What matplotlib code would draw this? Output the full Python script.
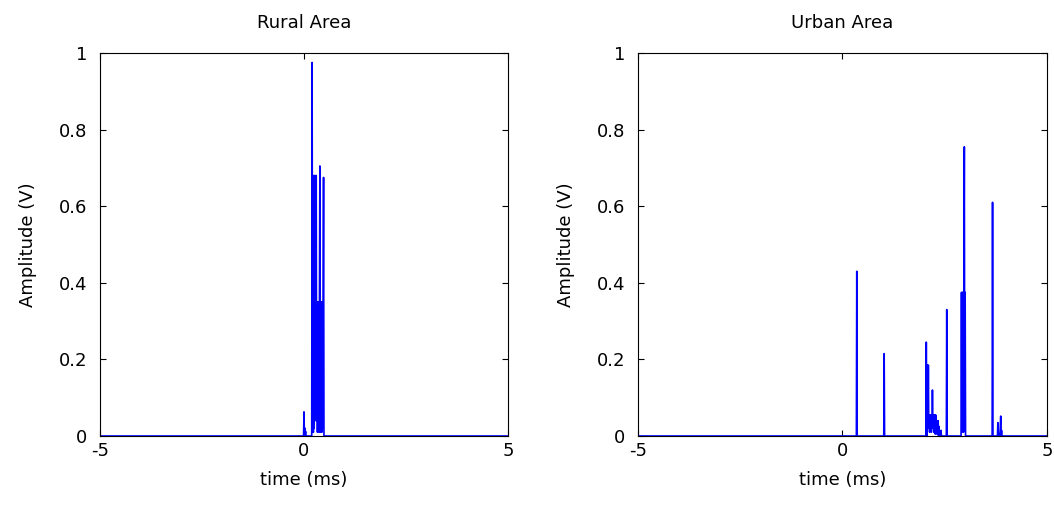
import numpy as np
import matplotlib.pyplot as plt

# time axis of the sampled impulse responses (ms)
t_start, t_stop, dt = -5.0, 5.0, 0.01

# rural channel taps: delay (ms) and amplitude (V)
rural_delay = [0.00, 0.02, 0.03, 0.04,
               0.20, 0.21, 0.22, 0.23, 0.24, 0.25, 0.26, 0.27, 0.28, 0.29, 0.30, 0.31,
               0.32, 0.33, 0.34, 0.35, 0.36, 0.37, 0.38, 0.39, 0.40, 0.41, 0.42, 0.43,
               0.44, 0.45, 0.46, 0.47, 0.48]
rural_amp = [0.063, 0.021, 0.004, 0.012,
             0.975, 0.01, 0.68, 0.01, 0.68, 0.02, 0.68, 0.04, 0.68, 0.05, 0.68, 0.04,
             0.35, 0.01, 0.35, 0.02, 0.35, 0.01, 0.35, 0.705, 0.01, 0.35, 0.02, 0.35,
             0.01, 0.35, 0.02, 0.35, 0.675]

# urban channel taps
urban_delay = [0.35, 1.02,
               2.05, 2.07, 2.08, 2.09, 2.10, 2.11, 2.12, 2.13, 2.14, 2.15, 2.16, 2.17,
               2.18, 2.19, 2.20, 2.21, 2.22, 2.23, 2.24, 2.25, 2.26, 2.27, 2.28, 2.29,
               2.30, 2.31, 2.32, 2.33, 2.34, 2.36, 2.38, 2.41,
               2.55,
               2.91, 2.92, 2.93, 2.94, 2.95, 2.96, 2.97, 2.98, 2.99, 3.00,
               3.67, 3.80, 3.81, 3.86, 3.87, 3.89]
urban_amp = [0.43, 0.215,
             0.245, 0.01, 0.185, 0.02, 0.185, 0.03, 0.055, 0.01, 0.055, 0.02, 0.055, 0.01,
             0.055, 0.02, 0.12, 0.03, 0.055, 0.01, 0.055, 0.02, 0.055, 0.005, 0.055, 0.01,
             0.04, 0.005, 0.04, 0.01, 0.04, 0.025, 0.01, 0.015,
             0.33,
             0.375, 0.01, 0.375, 0.02, 0.375, 0.01, 0.375, 0.755, 0.02, 0.375,
             0.61, 0.035, 0.01, 0.03, 0.052, 0.015]

titles = ["Rural Area", "Urban Area"]
xticks = [-5, 0, 5]
yticks = [0, 0.2, 0.4, 0.6, 0.8, 1]
ytick_labels = ["0", "0.2", "0.4", "0.6", "0.8", "1"]


def sampled(delays, amps):
    t = np.round(np.arange(t_start, t_stop + dt / 2, dt), 2)
    h = np.zeros_like(t)
    idx = np.round((np.array(delays) - t_start) / dt).astype(int)
    h[idx] = amps
    return t, h


plt.rcParams['font.family'] = ['DejaVu Sans']
fig = plt.figure(figsize=(10.54, 5.09), dpi=100)
ax1 = fig.add_axes([0.0949, 0.1434, 0.387, 0.7525])
ax2 = fig.add_axes([0.6053, 0.1434, 0.388, 0.7525])

for ax, title, (d, a) in zip([ax1, ax2], titles,
                             [(rural_delay, rural_amp), (urban_delay, urban_amp)]):
    t, h = sampled(d, a)
    ax.plot(t, h, color=(0, 0, 1), lw=1.2)
    ax.set_xlim(-5, 5)
    ax.set_ylim(0, 1)
    ax.set_xticks(xticks)
    ax.set_xticklabels([str(v) for v in xticks])
    ax.set_yticks(yticks)
    ax.set_yticklabels(ytick_labels)
    ax.tick_params(direction='in', length=4, top=True, right=True, labelsize=13)
    ax.tick_params(axis='y', pad=9)
    ax.tick_params(axis='x', pad=4)
    for s in ax.spines.values():
        s.set_linewidth(0.8)
    ax.set_title(title, fontsize=13, pad=18)
    ax.set_xlabel("time (ms)", fontsize=13, labelpad=8)
    ax.set_ylabel("Amplitude (V)", fontsize=13, labelpad=16)

fig.savefig("out.png", dpi=100)
